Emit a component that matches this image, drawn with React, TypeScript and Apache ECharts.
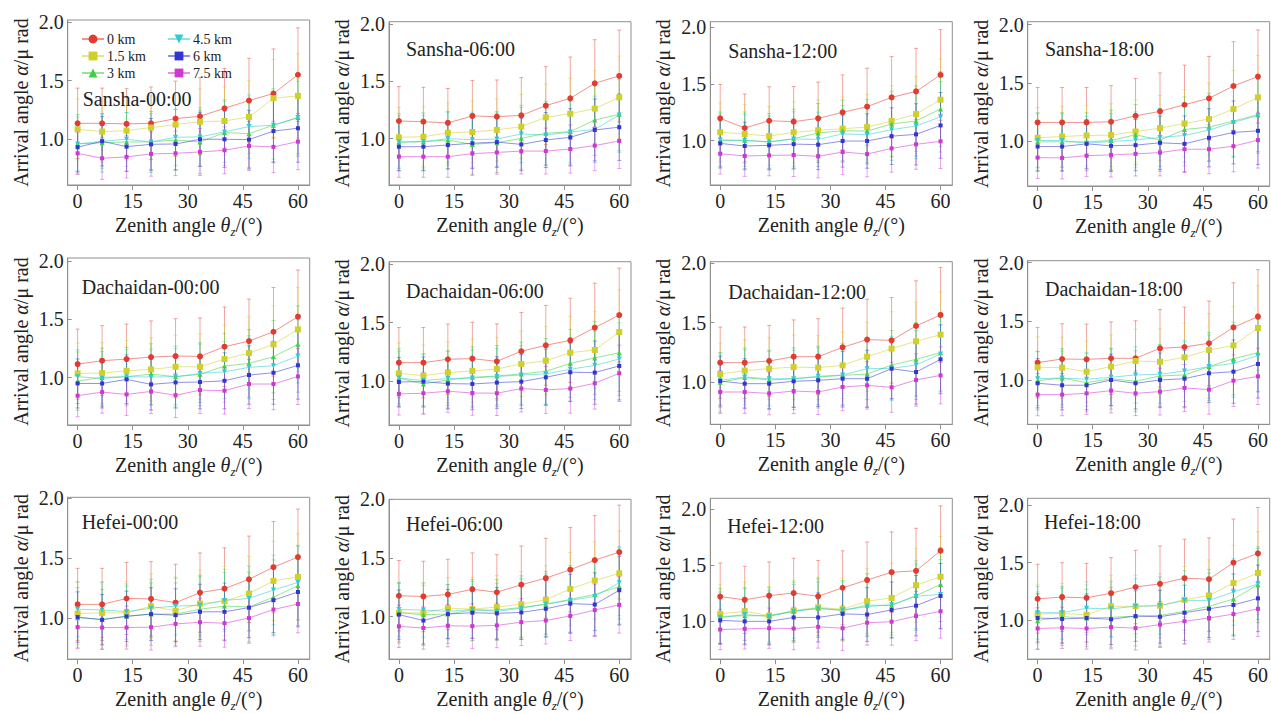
import React, { useEffect, useRef } from "react";
import * as echarts from "echarts";

// ---------- data ----------
const ZENITH = [0, 6.67, 13.33, 20, 26.67, 33.33, 40, 46.67, 53.33, 60];
const HEIGHTS = ["0 km", "1.5 km", "3 km", "4.5 km", "6 km", "7.5 km"];
const X_TICKS = [0, 15, 30, 45, 60];
const Y_TICKS = [1.0, 1.5, 2.0];
const PANEL_TITLES = [
  "Sansha-00:00", "Sansha-06:00", "Sansha-12:00", "Sansha-18:00",
  "Dachaidan-00:00", "Dachaidan-06:00", "Dachaidan-12:00", "Dachaidan-18:00",
  "Hefei-00:00", "Hefei-06:00", "Hefei-12:00", "Hefei-18:00",
];

// rows: 0 km, 1.5 km, 3 km, 4.5 km, 6 km, 7.5 km
const SANSHA_00 = [
  [1.136, 1.136, 1.131, 1.136, 1.176, 1.196, 1.264, 1.33, 1.39, 1.55],
  [1.085, 1.065, 1.074, 1.10, 1.125, 1.15, 1.156, 1.19, 1.35, 1.37],
  [0.96, 0.97, 0.977, 0.977, 0.994, 0.977, 1.057, 1.048, 1.12, 1.185],
  [0.96, 0.983, 1.0, 0.977, 1.017, 1.02, 1.063, 1.108, 1.12, 1.185],
  [0.932, 0.983, 0.937, 0.957, 0.96, 1.0, 1.0, 0.997, 1.07, 1.094],
  [0.88, 0.838, 0.85, 0.875, 0.88, 0.892, 0.906, 0.943, 0.935, 0.98],
];
const SANSHA_06 = [
  [1.154, 1.148, 1.137, 1.198, 1.192, 1.203, 1.288, 1.352, 1.483, 1.547],
  [1.012, 1.017, 1.052, 1.058, 1.076, 1.105, 1.186, 1.218, 1.262, 1.36],
  [0.97, 0.974, 0.988, 0.95, 0.965, 1.003, 1.047, 1.061, 1.163, 1.212],
  [0.97, 0.974, 1.0, 0.991, 0.997, 1.041, 1.032, 1.058, 1.081, 1.206],
  [0.93, 0.93, 0.945, 0.96, 0.97, 0.95, 0.988, 1.012, 1.076, 1.10],
  [0.843, 0.843, 0.843, 0.87, 0.88, 0.892, 0.892, 0.91, 0.94, 0.98],
];
const SANSHA_12 = [
  [1.197, 1.112, 1.176, 1.168, 1.197, 1.25, 1.30, 1.382, 1.435, 1.58],
  [1.074, 1.059, 1.041, 1.074, 1.091, 1.106, 1.12, 1.174, 1.235, 1.362],
  [1.003, 1.003, 0.99, 1.018, 1.068, 1.088, 1.085, 1.147, 1.174, 1.28],
  [1.006, 1.003, 0.988, 1.015, 1.012, 1.06, 1.053, 1.097, 1.13, 1.21],
  [0.976, 0.953, 0.959, 0.97, 0.965, 0.997, 0.997, 1.04, 1.056, 1.135],
  [0.885, 0.865, 0.87, 0.874, 0.862, 0.9, 0.882, 0.932, 0.968, 0.994],
];
const SANSHA_18 = [
  [1.161, 1.161, 1.161, 1.167, 1.218, 1.256, 1.313, 1.368, 1.474, 1.555],
  [1.029, 1.04, 1.049, 1.052, 1.083, 1.112, 1.152, 1.19, 1.276, 1.376],
  [0.994, 0.994, 0.994, 1.006, 1.055, 1.009, 1.10, 1.121, 1.172, 1.227],
  [1.006, 1.006, 0.983, 0.997, 1.011, 1.032, 1.049, 1.095, 1.161, 1.221],
  [0.954, 0.954, 0.977, 0.96, 0.966, 0.986, 0.977, 1.029, 1.075, 1.089],
  [0.859, 0.856, 0.876, 0.882, 0.891, 0.902, 0.931, 0.931, 0.957, 1.009],
];
const DACHAIDAN_00 = [
  [1.117, 1.146, 1.16, 1.177, 1.186, 1.183, 1.266, 1.314, 1.394, 1.523],
  [1.037, 1.04, 1.06, 1.071, 1.094, 1.094, 1.16, 1.211, 1.286, 1.414],
  [0.971, 1.003, 1.009, 1.031, 1.009, 1.029, 1.10, 1.123, 1.18, 1.286],
  [1.009, 0.994, 1.009, 1.006, 1.009, 1.037, 1.051, 1.089, 1.103, 1.186],
  [0.951, 0.951, 0.986, 0.943, 0.96, 0.963, 0.974, 1.023, 1.043, 1.106],
  [0.846, 0.877, 0.857, 0.883, 0.849, 0.894, 0.889, 0.946, 0.946, 1.011],
];
const DACHAIDAN_06 = [
  [1.159, 1.159, 1.188, 1.193, 1.17, 1.256, 1.307, 1.349, 1.457, 1.565],
  [1.068, 1.048, 1.074, 1.088, 1.105, 1.148, 1.176, 1.244, 1.267, 1.42],
  [1.028, 0.977, 1.011, 1.034, 1.045, 1.063, 1.085, 1.153, 1.199, 1.244],
  [1.028, 1.006, 1.023, 1.028, 1.04, 1.054, 1.063, 1.102, 1.136, 1.19],
  [0.994, 0.997, 0.98, 0.977, 0.989, 0.997, 1.034, 1.077, 1.074, 1.131],
  [0.892, 0.898, 0.915, 0.9, 0.898, 0.938, 0.926, 0.938, 0.983, 1.068],
];
const DACHAIDAN_12 = [
  [1.163, 1.163, 1.177, 1.213, 1.213, 1.292, 1.357, 1.351, 1.472, 1.565],
  [1.067, 1.096, 1.112, 1.126, 1.121, 1.14, 1.213, 1.281, 1.343, 1.399],
  [0.997, 1.037, 1.017, 1.028, 1.042, 1.056, 1.067, 1.143, 1.191, 1.247],
  [1.014, 1.042, 1.028, 1.028, 1.048, 1.059, 1.112, 1.115, 1.143, 1.236],
  [1.008, 0.986, 0.986, 1.006, 1.014, 1.028, 1.028, 1.112, 1.084, 1.191],
  [0.916, 0.916, 0.904, 0.924, 0.916, 0.958, 0.972, 0.955, 1.017, 1.056],
];
const DACHAIDAN_18 = [
  [1.148, 1.179, 1.176, 1.185, 1.185, 1.27, 1.281, 1.313, 1.449, 1.54],
  [1.108, 1.105, 1.071, 1.114, 1.162, 1.156, 1.193, 1.256, 1.295, 1.443],
  [0.994, 1.017, 0.977, 1.011, 0.989, 1.034, 1.043, 1.114, 1.182, 1.233],
  [1.011, 1.017, 1.006, 1.023, 1.043, 1.048, 1.077, 1.114, 1.142, 1.207],
  [0.972, 0.955, 0.955, 1.0, 0.972, 1.0, 1.011, 1.057, 1.071, 1.136],
  [0.875, 0.875, 0.886, 0.909, 0.886, 0.901, 0.932, 0.918, 0.994, 1.031],
];
const HEFEI_00 = [
  [1.114, 1.114, 1.163, 1.16, 1.128, 1.212, 1.245, 1.323, 1.424, 1.508],
  [1.038, 1.043, 1.043, 1.098, 1.06, 1.12, 1.141, 1.204, 1.31, 1.342],
  [1.003, 0.989, 1.016, 1.033, 1.033, 1.073, 1.10, 1.092, 1.174, 1.269],
  [1.073, 1.068, 1.054, 1.082, 1.10, 1.106, 1.147, 1.163, 1.234, 1.296],
  [1.008, 0.986, 1.014, 1.033, 1.024, 1.052, 1.052, 1.087, 1.149, 1.217],
  [0.924, 0.921, 0.921, 0.924, 0.951, 0.965, 0.957, 1.0, 1.071, 1.117],
];
const HEFEI_06 = [
  [1.178, 1.172, 1.189, 1.233, 1.208, 1.272, 1.328, 1.40, 1.481, 1.55],
  [1.033, 1.031, 1.072, 1.064, 1.081, 1.106, 1.144, 1.236, 1.308, 1.369],
  [1.033, 1.017, 1.022, 1.056, 1.056, 1.078, 1.106, 1.147, 1.189, 1.256],
  [1.061, 1.056, 1.044, 1.061, 1.044, 1.072, 1.106, 1.139, 1.172, 1.289],
  [1.017, 0.967, 1.022, 1.033, 1.028, 1.036, 1.067, 1.111, 1.103, 1.225],
  [0.917, 0.903, 0.922, 0.919, 0.925, 0.953, 0.967, 1.006, 1.056, 1.10],
];
const HEFEI_12 = [
  [1.218, 1.189, 1.227, 1.25, 1.221, 1.297, 1.366, 1.436, 1.448, 1.628],
  [1.064, 1.087, 1.049, 1.093, 1.122, 1.105, 1.177, 1.206, 1.32, 1.395],
  [1.041, 1.047, 1.047, 1.087, 1.116, 1.093, 1.142, 1.14, 1.227, 1.326],
  [1.029, 1.058, 1.041, 1.087, 1.11, 1.099, 1.128, 1.145, 1.221, 1.238],
  [1.006, 0.997, 0.997, 1.032, 1.032, 1.064, 1.058, 1.099, 1.137, 1.224],
  [0.924, 0.93, 0.936, 0.933, 0.948, 0.936, 0.985, 0.994, 1.044, 1.087],
];
const HEFEI_18 = [
  [1.185, 1.199, 1.193, 1.233, 1.287, 1.315, 1.364, 1.355, 1.50, 1.58],
  [1.051, 1.057, 1.045, 1.119, 1.119, 1.125, 1.176, 1.213, 1.321, 1.409],
  [0.994, 1.028, 1.017, 1.023, 1.034, 1.04, 1.074, 1.119, 1.182, 1.307],
  [1.063, 1.063, 1.102, 1.097, 1.119, 1.125, 1.17, 1.17, 1.244, 1.313],
  [1.017, 1.009, 1.017, 1.006, 1.034, 1.028, 1.063, 1.097, 1.131, 1.188],
  [0.926, 0.932, 0.926, 0.938, 0.929, 0.96, 0.989, 1.017, 1.051, 1.097],
];

// error-bar half widths (per height)
const ERR_0KM = [0.30, 0.30, 0.30, 0.31, 0.32, 0.33, 0.34, 0.36, 0.38, 0.40];
const ERR_1_5KM = [0.26, 0.26, 0.26, 0.27, 0.27, 0.28, 0.29, 0.31, 0.33, 0.36];
const ERR_3KM = [0.25, 0.25, 0.25, 0.26, 0.26, 0.27, 0.28, 0.29, 0.31, 0.33];
const ERR_4_5KM = [0.23, 0.23, 0.23, 0.24, 0.24, 0.25, 0.26, 0.27, 0.29, 0.31];
const ERR_6KM = [0.21, 0.21, 0.21, 0.22, 0.22, 0.23, 0.24, 0.25, 0.27, 0.29];
const ERR_7_5KM = [0.18, 0.18, 0.18, 0.19, 0.19, 0.20, 0.20, 0.21, 0.22, 0.24];

const PANELS = [
  SANSHA_00, SANSHA_06, SANSHA_12, SANSHA_18,
  DACHAIDAN_00, DACHAIDAN_06, DACHAIDAN_12, DACHAIDAN_18,
  HEFEI_00, HEFEI_06, HEFEI_12, HEFEI_18,
];
const ERRORS = [ERR_0KM, ERR_1_5KM, ERR_3KM, ERR_4_5KM, ERR_6KM, ERR_7_5KM];

// ---------- layout & style ----------
const FONT = "'Liberation Serif', 'Times New Roman', serif";
const COLORS = ["#e33b30", "#cfd02c", "#3fcf3f", "#2fcad2", "#3434d2", "#d236d2"];
const SYMBOLS = ["circle", "rect", "triangle", "path://M0,0 L10,0 L5,9 Z", "rect", "rect"];
const SYMBOL_SIZES = [6, 6, 5, 5, 4, 4];
const COL_LEFT = [67.7, 389, 710.3, 1027.7];
const GRID_W = 242;
const GRID_TOP = [20, 21.7, 21.7, 21.7, 258, 261.7, 261.7, 260.7, 497.3, 499.3, 498.3, 498.3];
const GRID_BOTTOM = [185, 185, 185, 186, 425, 425, 424.3, 424.3, 662.7, 662.7, 662.7, 662.7];
const Y_MIN = [0.61, 0.596, 0.609, 0.615, 0.595, 0.627, 0.644, 0.622, 0.658, 0.638, 0.66, 0.659];
const Y_MAX = [2.017, 2.02, 2.05, 2.026, 2.026, 2.02, 2.013, 2.017, 2.006, 2.0, 2.096, 2.06];
const TITLE_X = [82.7, 406, 728.3, 1045, 81.7, 406, 728.3, 1045, 81.7, 406, 727.3, 1044];
const TITLE_Y = [100, 50, 51.7, 50, 288.3, 291.7, 293.3, 290, 523.3, 525, 526.7, 523.3];
const FRAME = "#8f8f8f";
const TEXT = "#222";

function buildOption() {
  const grid: any[] = [];
  const xAxis: any[] = [];
  const yAxis: any[] = [];
  const series: any[] = [];
  const graphic: any[] = [];

  PANELS.forEach((panel, p) => {
    const col = p % 4;
    grid.push({
      left: COL_LEFT[col],
      width: GRID_W,
      top: GRID_TOP[p],
      height: GRID_BOTTOM[p] - GRID_TOP[p],
      show: true,
      borderColor: FRAME,
      borderWidth: 1,
      backgroundColor: "transparent",
    });
    xAxis.push({
      type: "value",
      gridIndex: p,
      min: -2.7,
      max: 63.2,
      splitLine: { show: false },
      axisLine: { show: true, onZero: false, lineStyle: { color: FRAME } },
      axisTick: { show: true, length: 5, customValues: X_TICKS, lineStyle: { color: FRAME } },
      axisLabel: { customValues: X_TICKS, margin: 6, fontSize: 20, fontFamily: FONT, color: TEXT },
      name: "Zenith angle {i|θ}{s|z}/(°)",
      nameLocation: "middle",
      nameGap: 26,
      nameTextStyle: {
        fontSize: 20,
        fontFamily: FONT,
        color: TEXT,
        lineHeight: 26,
        rich: {
          i: { fontSize: 20, fontFamily: FONT, fontStyle: "italic", color: TEXT, lineHeight: 26 },
          s: { fontSize: 13, fontFamily: FONT, fontStyle: "italic", color: TEXT, verticalAlign: "bottom", lineHeight: 13 },
        },
      },
    });
    yAxis.push({
      type: "value",
      gridIndex: p,
      min: Y_MIN[p],
      max: Y_MAX[p],
      splitLine: { show: false },
      axisLine: { show: true, onZero: false, lineStyle: { color: FRAME } },
      axisTick: { show: true, inside: true, length: 4, customValues: Y_TICKS, lineStyle: { color: FRAME } },
      axisLabel: {
        customValues: Y_TICKS,
        margin: 4,
        fontSize: 20,
        fontFamily: FONT,
        color: TEXT,
        formatter: (v: number) => v.toFixed(1),
      },
      name: "Arrival angle {i|α}/μ rad",
      nameLocation: "middle",
      nameGap: 37,
      nameTextStyle: {
        fontSize: 20,
        fontFamily: FONT,
        color: TEXT,
        rich: { i: { fontSize: 20, fontFamily: FONT, fontStyle: "italic", color: TEXT } },
      },
    });

    panel.forEach((vals, s) => {
      const color = COLORS[s];
      const err = ERRORS[s];
      series.push({
        type: "custom",
        xAxisIndex: p,
        yAxisIndex: p,
        z: 1,
        silent: true,
        encode: { x: 0, y: [1, 2] },
        data: vals.map((v, i) => [ZENITH[i], v - err[i], v + err[i]]),
        renderItem: (params: any, api: any) => {
          const x = api.value(0);
          const lo = api.coord([x, api.value(1)]);
          const hi = api.coord([x, api.value(2)]);
          const w = 2;
          const st = { stroke: color, lineWidth: 1, opacity: 0.45 };
          return {
            type: "group",
            children: [
              { type: "line", shape: { x1: lo[0], y1: lo[1], x2: hi[0], y2: hi[1] }, style: st },
              { type: "line", shape: { x1: lo[0] - w, y1: lo[1], x2: lo[0] + w, y2: lo[1] }, style: st },
              { type: "line", shape: { x1: hi[0] - w, y1: hi[1], x2: hi[0] + w, y2: hi[1] }, style: st },
            ],
          };
        },
      });
      series.push({
        type: "line",
        name: HEIGHTS[s],
        xAxisIndex: p,
        yAxisIndex: p,
        z: 3,
        data: vals.map((v, i) => [ZENITH[i], v]),
        symbol: SYMBOLS[s],
        symbolSize: SYMBOL_SIZES[s],
        showSymbol: true,
        lineStyle: { color, width: 1, opacity: 0.55 },
        itemStyle: { color, opacity: 1 },
        emphasis: { disabled: true },
      });
    });

    graphic.push({
      type: "text",
      left: TITLE_X[p],
      top: TITLE_Y[p] - 11,
      style: { text: PANEL_TITLES[p], fontSize: 20, fontFamily: FONT, fill: TEXT },
      z: 10,
    });
  });

  const legendCommon = {
    orient: "vertical",
    top: 27,
    itemGap: 3,
    itemWidth: 22,
    itemHeight: 11,
    selectedMode: false,
    textStyle: { fontSize: 14, fontFamily: FONT, color: TEXT, padding: [0, 0, 0, -2] },
  };

  return {
    animation: false,
    grid,
    xAxis,
    yAxis,
    series,
    graphic,
    legend: [
      { ...legendCommon, left: 76, data: HEIGHTS.slice(0, 3) },
      { ...legendCommon, left: 162, data: HEIGHTS.slice(3, 6) },
    ],
  };
}

export default function App() {
  const ref = useRef<HTMLDivElement>(null);
  useEffect(() => {
    if (!ref.current) return;
    const chart = echarts.init(ref.current, undefined, { renderer: "svg" });
    chart.setOption(buildOption() as any);
    return () => chart.dispose();
  }, []);
  return (
    <div
      ref={ref}
      style={{ position: "absolute", left: 0, top: 0, width: 1271, height: 713, background: "#fff" }}
    />
  );
}
